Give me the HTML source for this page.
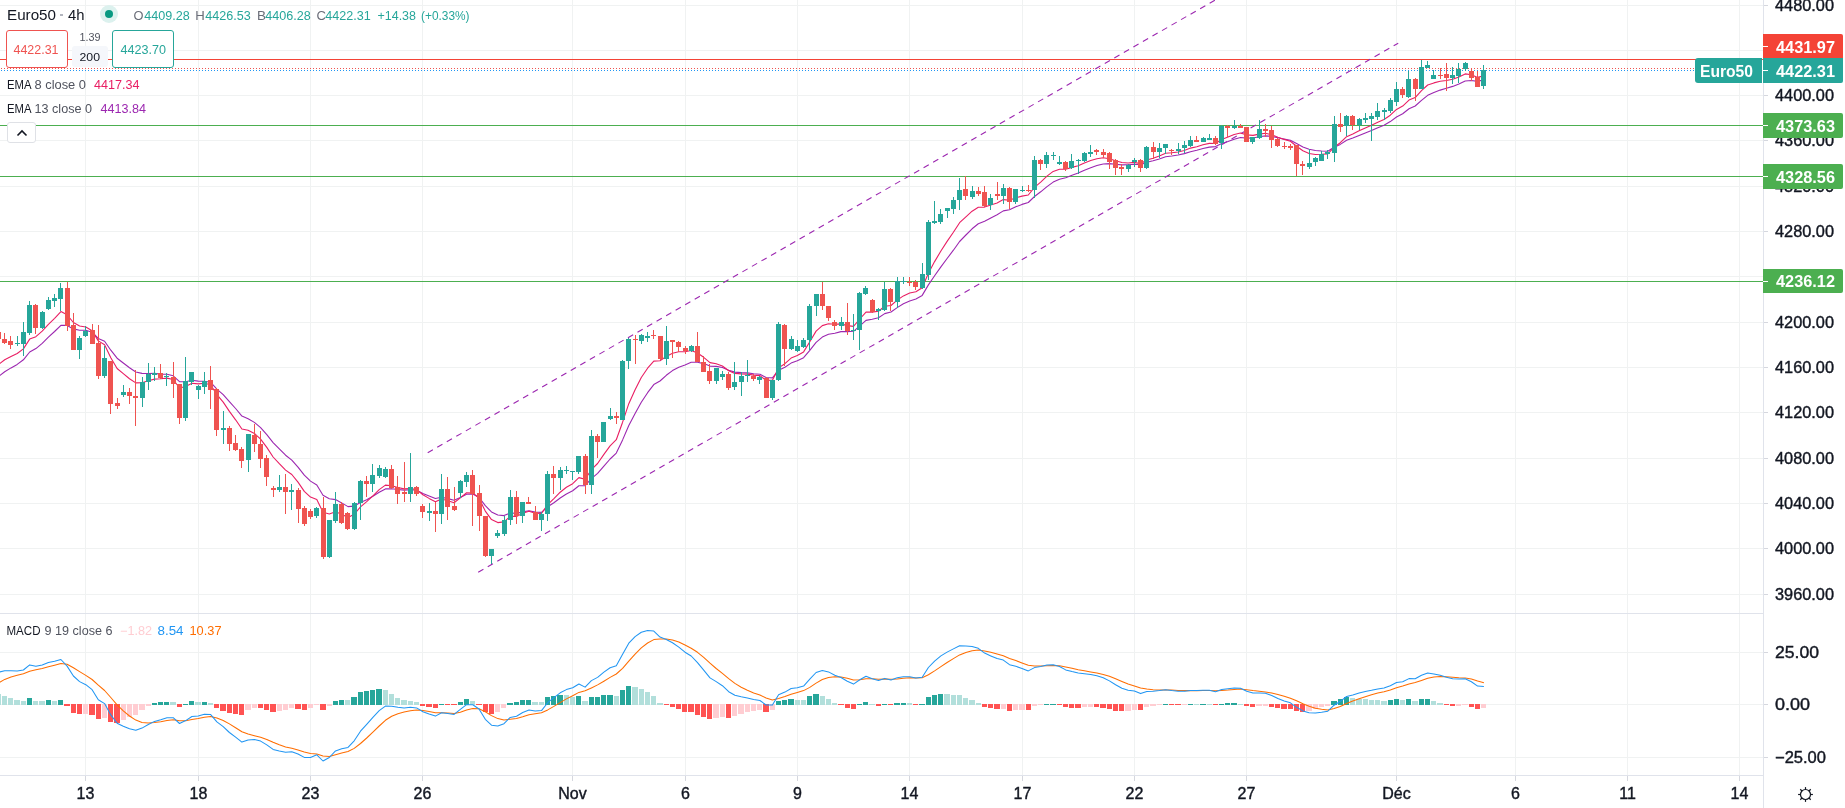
<!DOCTYPE html>
<html><head><meta charset="utf-8"><style>
html,body{margin:0;padding:0;background:#fff;width:1845px;height:808px;overflow:hidden;position:relative}
svg{will-change:transform}
.lg{position:absolute;white-space:nowrap;font-family:"Liberation Sans",sans-serif;line-height:1}
.k{color:#6a6d78} .g{color:#26a69a}
</style></head><body>
<svg width="1845" height="808" viewBox="0 0 1845 808" style="position:absolute;left:0;top:0">
<rect x="0" y="0" width="1845" height="808" fill="#ffffff"/>
<g shape-rendering="crispEdges"><rect x="85" y="0" width="1" height="775" fill="#f0f2f2"/><rect x="198" y="0" width="1" height="775" fill="#f0f2f2"/><rect x="310" y="0" width="1" height="775" fill="#f0f2f2"/><rect x="422" y="0" width="1" height="775" fill="#f0f2f2"/><rect x="572" y="0" width="1" height="775" fill="#f0f2f2"/><rect x="685" y="0" width="1" height="775" fill="#f0f2f2"/><rect x="797" y="0" width="1" height="775" fill="#f0f2f2"/><rect x="909" y="0" width="1" height="775" fill="#f0f2f2"/><rect x="1022" y="0" width="1" height="775" fill="#f0f2f2"/><rect x="1134" y="0" width="1" height="775" fill="#f0f2f2"/><rect x="1246" y="0" width="1" height="775" fill="#f0f2f2"/><rect x="1396" y="0" width="1" height="775" fill="#f0f2f2"/><rect x="1515" y="0" width="1" height="775" fill="#f0f2f2"/><rect x="1627" y="0" width="1" height="775" fill="#f0f2f2"/><rect x="1739" y="0" width="1" height="775" fill="#f0f2f2"/><rect x="0" y="594" width="1763" height="1" fill="#f0f2f2"/><rect x="0" y="548" width="1763" height="1" fill="#f0f2f2"/><rect x="0" y="503" width="1763" height="1" fill="#f0f2f2"/><rect x="0" y="458" width="1763" height="1" fill="#f0f2f2"/><rect x="0" y="412" width="1763" height="1" fill="#f0f2f2"/><rect x="0" y="367" width="1763" height="1" fill="#f0f2f2"/><rect x="0" y="322" width="1763" height="1" fill="#f0f2f2"/><rect x="0" y="276" width="1763" height="1" fill="#f0f2f2"/><rect x="0" y="231" width="1763" height="1" fill="#f0f2f2"/><rect x="0" y="186" width="1763" height="1" fill="#f0f2f2"/><rect x="0" y="140" width="1763" height="1" fill="#f0f2f2"/><rect x="0" y="95" width="1763" height="1" fill="#f0f2f2"/><rect x="0" y="50" width="1763" height="1" fill="#f0f2f2"/><rect x="0" y="5" width="1763" height="1" fill="#f0f2f2"/><rect x="0" y="652" width="1763" height="1" fill="#f0f2f2"/><rect x="0" y="704" width="1763" height="1" fill="#f0f2f2"/><rect x="0" y="757" width="1763" height="1" fill="#f0f2f2"/></g>
<g shape-rendering="crispEdges"><rect x="0" y="613" width="1845" height="1" fill="#e0e3eb"/><rect x="0" y="775" width="1845" height="1" fill="#e0e3eb"/><rect x="1763" y="0" width="1" height="808" fill="#e0e3eb"/></g>
<g shape-rendering="crispEdges">
<rect x="0" y="59" width="1763" height="1" fill="#f44336"/>
<rect x="0" y="125" width="1763" height="1" fill="#4caf50"/>
<rect x="0" y="176" width="1763" height="1" fill="#4caf50"/>
<rect x="0" y="281" width="1763" height="1" fill="#4caf50"/>
<line x1="0" y1="68.5" x2="1695" y2="68.5" stroke="#ef5350" stroke-width="1" stroke-dasharray="1 2" stroke-dashoffset="-1"/>
<line x1="0" y1="70.5" x2="1695" y2="70.5" stroke="#2196f3" stroke-width="1" stroke-dasharray="1 2" stroke-dashoffset="-1"/>
</g>
<line x1="427.7" y1="452.8" x2="1215.2" y2="-0.0" stroke="#9c27b0" stroke-width="1.1" stroke-dasharray="6 5"/>
<line x1="478.2" y1="572.2" x2="1398.2" y2="43.2" stroke="#9c27b0" stroke-width="1.1" stroke-dasharray="6 5"/>
<polyline points="-1.5,376.5 4.7,371.8 11.0,367.9 17.2,364.4 23.4,359.8 29.7,352.0 35.9,348.6 42.2,343.4 48.4,337.2 54.6,331.5 60.9,325.3 67.1,325.4 73.4,328.9 79.6,330.2 85.8,330.3 92.1,332.2 98.3,338.5 104.6,341.3 110.8,350.2 117.1,358.2 123.3,363.0 129.5,367.7 135.8,372.0 142.0,373.4 148.3,373.5 154.5,373.4 160.7,374.1 167.0,374.3 173.2,375.8 179.5,381.7 185.7,381.7 191.9,380.3 198.2,381.1 204.4,381.2 210.7,382.3 216.9,389.1 223.2,394.7 229.4,401.7 235.6,408.5 241.9,416.1 248.1,418.7 254.4,422.4 260.6,427.6 266.8,434.6 273.1,442.6 279.3,448.9 285.6,455.2 291.8,460.1 298.0,467.1 304.3,475.2 310.5,481.1 316.8,485.0 323.0,495.3 329.3,498.8 335.5,499.6 341.7,502.9 348.0,506.6 354.2,506.1 360.5,502.5 366.7,499.8 372.9,496.3 379.2,492.2 385.4,488.9 391.7,488.8 397.9,489.5 404.1,490.1 410.4,489.7 416.6,490.3 422.9,493.4 429.1,496.0 435.4,498.5 441.6,497.2 447.8,498.6 454.1,500.2 460.3,497.4 466.6,494.2 472.8,494.1 479.0,497.3 485.3,505.7 491.5,511.9 497.8,515.0 504.0,515.6 510.2,513.0 516.5,513.4 522.7,511.9 529.0,510.7 535.2,512.0 541.5,512.4 547.7,506.8 553.9,502.7 560.2,498.0 566.4,494.0 572.7,490.7 578.9,485.8 585.1,485.7 591.4,478.6 597.6,473.4 603.9,466.1 610.1,459.0 616.3,453.1 622.6,439.9 628.8,425.5 635.1,413.4 641.3,402.2 647.6,392.7 653.8,384.6 660.0,381.0 666.3,375.3 672.5,370.6 678.8,367.2 685.0,364.9 691.2,362.3 697.5,362.2 703.7,363.6 710.0,366.1 716.2,366.4 722.4,367.5 728.7,370.3 734.9,372.1 741.2,372.6 747.4,372.9 753.7,373.7 759.9,374.2 766.1,377.5 772.4,377.9 778.6,370.3 784.9,367.2 791.1,363.1 797.3,360.7 803.6,357.7 809.8,350.3 816.1,342.3 822.3,337.1 828.5,334.3 834.8,333.2 841.0,331.6 847.3,331.6 853.5,331.3 859.8,325.8 866.0,320.4 872.2,319.2 878.5,317.7 884.7,313.6 891.0,312.0 897.2,307.6 903.4,303.8 909.7,300.9 915.9,298.9 922.2,295.4 928.4,284.9 934.6,275.8 940.9,266.9 947.1,258.5 953.4,250.2 959.6,241.5 965.9,235.0 972.1,228.8 978.3,223.8 984.6,221.3 990.8,217.9 997.1,214.7 1003.3,210.9 1009.5,209.7 1015.8,206.8 1022.0,204.4 1028.3,202.5 1034.5,196.5 1040.7,191.8 1047.0,186.6 1053.2,182.1 1059.5,179.2 1065.7,177.7 1072.0,175.3 1078.2,173.1 1084.4,170.2 1090.7,167.7 1096.9,165.5 1103.2,164.0 1109.4,163.6 1115.6,164.2 1121.9,164.9 1128.1,164.8 1134.4,164.2 1140.6,164.8 1146.8,162.2 1153.1,160.8 1159.3,159.0 1165.6,156.8 1171.8,156.0 1178.1,155.0 1184.3,153.6 1190.5,151.7 1196.8,150.2 1203.0,148.5 1209.3,147.1 1215.5,146.6 1221.7,143.6 1228.0,141.5 1234.2,139.2 1240.5,137.5 1246.7,138.1 1253.0,138.0 1259.2,136.7 1265.4,135.9 1271.7,136.4 1277.9,137.8 1284.2,139.1 1290.4,140.3 1296.6,143.6 1302.9,146.9 1309.1,149.2 1315.4,150.5 1321.6,151.0 1327.8,151.2 1334.1,147.3 1340.3,144.4 1346.6,140.3 1352.8,138.1 1359.1,135.4 1365.3,132.9 1371.5,130.5 1377.8,127.7 1384.0,125.2 1390.3,121.6 1396.5,117.0 1402.7,113.8 1409.0,108.8 1415.2,106.0 1421.5,100.4 1427.7,95.3 1433.9,92.5 1440.2,90.1 1446.4,88.3 1452.7,86.4 1458.9,83.9 1465.2,81.0 1471.4,80.5 1477.6,81.4 1483.9,79.8" fill="none" stroke="#9c27b0" stroke-width="1.1" stroke-linejoin="round"/>
<polyline points="-1.5,364.5 4.7,359.7 11.0,356.5 17.2,353.5 23.4,348.9 29.7,339.1 35.9,336.7 42.2,331.2 48.4,324.3 54.6,318.3 60.9,311.6 67.1,314.8 73.4,322.5 79.6,326.0 85.8,327.0 92.1,330.8 98.3,340.9 104.6,344.7 110.8,357.8 117.1,368.5 123.3,373.7 129.5,378.7 135.8,382.9 142.0,382.7 148.3,380.7 154.5,379.1 160.7,378.8 167.0,378.1 173.2,379.5 179.5,388.0 185.7,386.5 191.9,383.3 198.2,383.9 204.4,383.3 210.7,384.7 216.9,394.7 223.2,402.1 229.4,411.4 235.6,419.8 241.9,429.0 248.1,430.3 254.4,433.4 260.6,439.1 266.8,447.4 273.1,457.0 279.3,463.7 285.6,470.1 291.8,474.5 298.0,482.1 304.3,491.4 310.5,497.1 316.8,499.5 323.0,512.3 329.3,514.0 335.5,511.8 341.7,514.3 348.0,517.5 354.2,514.3 360.5,506.8 366.7,501.7 372.9,495.8 379.2,489.6 385.4,485.1 391.7,485.7 397.9,487.5 404.1,488.9 410.4,488.5 416.6,489.6 422.9,494.7 429.1,498.4 435.4,501.8 441.6,499.0 447.8,500.7 454.1,502.8 460.3,497.9 466.6,492.8 472.8,493.0 479.0,498.2 485.3,511.1 491.5,519.6 497.8,522.6 504.0,521.9 510.2,516.4 516.5,516.4 522.7,513.3 529.0,511.2 535.2,513.1 541.5,513.4 547.7,504.6 553.9,498.6 560.2,492.2 566.4,487.3 572.7,483.7 578.9,477.6 585.1,479.3 591.4,469.7 597.6,463.5 603.9,454.4 610.1,445.9 616.3,439.7 622.6,422.2 628.8,403.7 635.1,389.7 641.3,377.5 647.6,368.2 653.8,361.1 660.0,360.7 666.3,356.4 672.5,353.3 678.8,351.8 685.0,351.7 691.2,350.5 697.5,353.0 703.7,357.3 710.0,362.6 716.2,363.8 722.4,366.0 728.7,370.8 734.9,373.4 741.2,373.9 747.4,374.1 753.7,375.1 759.9,375.6 766.1,380.4 772.4,380.3 778.6,367.9 784.9,363.7 791.1,358.1 797.3,355.5 803.6,351.9 809.8,341.7 816.1,331.1 822.3,325.6 828.5,323.8 834.8,324.3 841.0,323.9 847.3,325.6 853.5,326.4 859.8,319.0 866.0,312.1 872.2,312.1 878.5,311.3 884.7,306.3 891.0,305.5 897.2,300.1 903.4,295.9 909.7,293.0 915.9,291.7 922.2,287.8 928.4,273.2 934.6,261.6 940.9,251.0 947.1,241.4 953.4,232.2 959.6,222.7 965.9,216.9 972.1,211.2 978.3,207.3 984.6,207.1 990.8,204.9 997.1,202.9 1003.3,199.6 1009.5,200.2 1015.8,197.8 1022.0,196.1 1028.3,195.0 1034.5,187.3 1040.7,182.1 1047.0,176.1 1053.2,171.4 1059.5,169.3 1065.7,169.2 1072.0,167.4 1078.2,165.7 1084.4,162.9 1090.7,160.5 1096.9,158.7 1103.2,157.8 1109.4,158.7 1115.6,160.7 1121.9,162.5 1128.1,163.0 1134.4,162.4 1140.6,163.7 1146.8,160.0 1153.1,158.2 1159.3,155.9 1165.6,153.3 1171.8,152.8 1178.1,152.0 1184.3,150.5 1190.5,148.1 1196.8,146.7 1203.0,144.8 1209.3,143.4 1215.5,143.5 1221.7,139.5 1228.0,137.1 1234.2,134.5 1240.5,133.0 1246.7,134.9 1253.0,135.4 1259.2,134.1 1265.4,133.3 1271.7,134.7 1277.9,137.2 1284.2,139.4 1290.4,141.2 1296.6,146.2 1302.9,150.7 1309.1,153.5 1315.4,154.5 1321.6,154.3 1327.8,153.9 1334.1,147.3 1340.3,142.7 1346.6,136.7 1352.8,134.1 1359.1,130.8 1365.3,128.0 1371.5,125.3 1377.8,122.2 1384.0,119.5 1390.3,115.2 1396.5,109.4 1402.7,106.1 1409.0,100.1 1415.2,97.6 1421.5,90.7 1427.7,85.0 1433.9,82.9 1440.2,81.3 1446.4,80.5 1452.7,79.3 1458.9,77.0 1465.2,73.9 1471.4,74.7 1477.6,77.4 1483.9,75.8" fill="none" stroke="#e91e63" stroke-width="1.1" stroke-linejoin="round"/>
<g shape-rendering="crispEdges"><rect x="-2" y="331" width="1" height="9" fill="#ef5350"/><rect x="-4" y="332" width="5" height="7" fill="#ef5350"/><rect x="4" y="333" width="1" height="11" fill="#ef5350"/><rect x="2" y="339" width="5" height="4" fill="#ef5350"/><rect x="10" y="336" width="1" height="13" fill="#ef5350"/><rect x="8" y="341" width="5" height="4" fill="#ef5350"/><rect x="17" y="336" width="1" height="10" fill="#26a69a"/><rect x="15" y="343" width="5" height="1" fill="#26a69a"/><rect x="23" y="322" width="1" height="34" fill="#26a69a"/><rect x="21" y="332" width="5" height="12" fill="#26a69a"/><rect x="29" y="301" width="1" height="34" fill="#26a69a"/><rect x="27" y="305" width="5" height="28" fill="#26a69a"/><rect x="35" y="304" width="1" height="30" fill="#ef5350"/><rect x="33" y="305" width="5" height="23" fill="#ef5350"/><rect x="42" y="311" width="1" height="18" fill="#26a69a"/><rect x="40" y="312" width="5" height="16" fill="#26a69a"/><rect x="48" y="297" width="1" height="13" fill="#26a69a"/><rect x="46" y="300" width="5" height="9" fill="#26a69a"/><rect x="54" y="294" width="1" height="13" fill="#26a69a"/><rect x="52" y="298" width="5" height="3" fill="#26a69a"/><rect x="60" y="283" width="1" height="28" fill="#26a69a"/><rect x="58" y="288" width="5" height="11" fill="#26a69a"/><rect x="67" y="282" width="1" height="49" fill="#ef5350"/><rect x="65" y="288" width="5" height="38" fill="#ef5350"/><rect x="73" y="313" width="1" height="37" fill="#ef5350"/><rect x="71" y="325" width="5" height="25" fill="#ef5350"/><rect x="79" y="336" width="1" height="23" fill="#26a69a"/><rect x="77" y="338" width="5" height="12" fill="#26a69a"/><rect x="85" y="326" width="1" height="11" fill="#26a69a"/><rect x="83" y="331" width="5" height="5" fill="#26a69a"/><rect x="92" y="324" width="1" height="20" fill="#ef5350"/><rect x="90" y="330" width="5" height="14" fill="#ef5350"/><rect x="98" y="325" width="1" height="54" fill="#ef5350"/><rect x="96" y="343" width="5" height="33" fill="#ef5350"/><rect x="104" y="346" width="1" height="32" fill="#26a69a"/><rect x="102" y="358" width="5" height="18" fill="#26a69a"/><rect x="110" y="361" width="1" height="53" fill="#ef5350"/><rect x="108" y="361" width="5" height="43" fill="#ef5350"/><rect x="117" y="398" width="1" height="11" fill="#ef5350"/><rect x="115" y="403" width="5" height="3" fill="#ef5350"/><rect x="123" y="385" width="1" height="12" fill="#26a69a"/><rect x="121" y="392" width="5" height="3" fill="#26a69a"/><rect x="129" y="388" width="1" height="16" fill="#ef5350"/><rect x="127" y="392" width="5" height="4" fill="#ef5350"/><rect x="135" y="370" width="1" height="56" fill="#ef5350"/><rect x="133" y="396" width="5" height="2" fill="#ef5350"/><rect x="142" y="377" width="1" height="30" fill="#26a69a"/><rect x="140" y="382" width="5" height="16" fill="#26a69a"/><rect x="148" y="363" width="1" height="27" fill="#26a69a"/><rect x="146" y="374" width="5" height="8" fill="#26a69a"/><rect x="154" y="367" width="1" height="14" fill="#26a69a"/><rect x="152" y="373" width="5" height="2" fill="#26a69a"/><rect x="160" y="364" width="1" height="15" fill="#ef5350"/><rect x="158" y="373" width="5" height="5" fill="#ef5350"/><rect x="166" y="373" width="1" height="13" fill="#26a69a"/><rect x="164" y="376" width="5" height="1" fill="#26a69a"/><rect x="173" y="362" width="1" height="36" fill="#ef5350"/><rect x="171" y="377" width="5" height="7" fill="#ef5350"/><rect x="179" y="384" width="1" height="40" fill="#ef5350"/><rect x="177" y="384" width="5" height="34" fill="#ef5350"/><rect x="185" y="357" width="1" height="64" fill="#26a69a"/><rect x="183" y="381" width="5" height="37" fill="#26a69a"/><rect x="191" y="372" width="1" height="13" fill="#26a69a"/><rect x="189" y="372" width="5" height="10" fill="#26a69a"/><rect x="198" y="385" width="1" height="14" fill="#26a69a"/><rect x="196" y="386" width="5" height="4" fill="#26a69a"/><rect x="204" y="372" width="1" height="22" fill="#26a69a"/><rect x="202" y="381" width="5" height="6" fill="#26a69a"/><rect x="210" y="366" width="1" height="43" fill="#ef5350"/><rect x="208" y="380" width="5" height="10" fill="#ef5350"/><rect x="216" y="388" width="1" height="48" fill="#ef5350"/><rect x="214" y="389" width="5" height="41" fill="#ef5350"/><rect x="223" y="411" width="1" height="33" fill="#26a69a"/><rect x="221" y="428" width="5" height="2" fill="#26a69a"/><rect x="229" y="426" width="1" height="25" fill="#ef5350"/><rect x="227" y="428" width="5" height="16" fill="#ef5350"/><rect x="235" y="435" width="1" height="16" fill="#ef5350"/><rect x="233" y="443" width="5" height="7" fill="#ef5350"/><rect x="241" y="447" width="1" height="21" fill="#ef5350"/><rect x="239" y="449" width="5" height="12" fill="#ef5350"/><rect x="248" y="434" width="1" height="38" fill="#26a69a"/><rect x="246" y="434" width="5" height="26" fill="#26a69a"/><rect x="254" y="424" width="1" height="28" fill="#ef5350"/><rect x="252" y="435" width="5" height="9" fill="#ef5350"/><rect x="260" y="431" width="1" height="37" fill="#ef5350"/><rect x="258" y="444" width="5" height="15" fill="#ef5350"/><rect x="266" y="455" width="1" height="31" fill="#ef5350"/><rect x="264" y="458" width="5" height="19" fill="#ef5350"/><rect x="273" y="486" width="1" height="11" fill="#ef5350"/><rect x="271" y="488" width="5" height="2" fill="#ef5350"/><rect x="279" y="475" width="1" height="17" fill="#26a69a"/><rect x="277" y="487" width="5" height="3" fill="#26a69a"/><rect x="285" y="474" width="1" height="40" fill="#ef5350"/><rect x="283" y="487" width="5" height="5" fill="#ef5350"/><rect x="291" y="484" width="1" height="26" fill="#26a69a"/><rect x="289" y="490" width="5" height="2" fill="#26a69a"/><rect x="298" y="488" width="1" height="35" fill="#ef5350"/><rect x="296" y="490" width="5" height="19" fill="#ef5350"/><rect x="304" y="506" width="1" height="20" fill="#ef5350"/><rect x="302" y="508" width="5" height="16" fill="#ef5350"/><rect x="310" y="509" width="1" height="10" fill="#ef5350"/><rect x="308" y="511" width="5" height="6" fill="#ef5350"/><rect x="316" y="507" width="1" height="11" fill="#26a69a"/><rect x="314" y="508" width="5" height="8" fill="#26a69a"/><rect x="323" y="497" width="1" height="62" fill="#ef5350"/><rect x="321" y="508" width="5" height="49" fill="#ef5350"/><rect x="329" y="520" width="1" height="38" fill="#26a69a"/><rect x="327" y="520" width="5" height="37" fill="#26a69a"/><rect x="335" y="492" width="1" height="31" fill="#26a69a"/><rect x="333" y="504" width="5" height="17" fill="#26a69a"/><rect x="341" y="502" width="1" height="22" fill="#ef5350"/><rect x="339" y="504" width="5" height="19" fill="#ef5350"/><rect x="347" y="512" width="1" height="18" fill="#ef5350"/><rect x="345" y="513" width="5" height="16" fill="#ef5350"/><rect x="354" y="502" width="1" height="28" fill="#26a69a"/><rect x="352" y="503" width="5" height="26" fill="#26a69a"/><rect x="360" y="480" width="1" height="40" fill="#26a69a"/><rect x="358" y="481" width="5" height="22" fill="#26a69a"/><rect x="366" y="476" width="1" height="21" fill="#ef5350"/><rect x="364" y="481" width="5" height="3" fill="#ef5350"/><rect x="372" y="464" width="1" height="28" fill="#26a69a"/><rect x="370" y="475" width="5" height="9" fill="#26a69a"/><rect x="379" y="465" width="1" height="13" fill="#26a69a"/><rect x="377" y="468" width="5" height="8" fill="#26a69a"/><rect x="385" y="467" width="1" height="11" fill="#26a69a"/><rect x="383" y="469" width="5" height="8" fill="#26a69a"/><rect x="391" y="465" width="1" height="24" fill="#ef5350"/><rect x="389" y="469" width="5" height="19" fill="#ef5350"/><rect x="397" y="476" width="1" height="28" fill="#ef5350"/><rect x="395" y="487" width="5" height="7" fill="#ef5350"/><rect x="404" y="462" width="1" height="40" fill="#ef5350"/><rect x="402" y="492" width="5" height="2" fill="#ef5350"/><rect x="410" y="453" width="1" height="49" fill="#26a69a"/><rect x="408" y="487" width="5" height="7" fill="#26a69a"/><rect x="416" y="486" width="1" height="10" fill="#ef5350"/><rect x="414" y="487" width="5" height="7" fill="#ef5350"/><rect x="422" y="504" width="1" height="14" fill="#ef5350"/><rect x="420" y="506" width="5" height="6" fill="#ef5350"/><rect x="429" y="503" width="1" height="18" fill="#26a69a"/><rect x="427" y="511" width="5" height="2" fill="#26a69a"/><rect x="435" y="502" width="1" height="30" fill="#ef5350"/><rect x="433" y="511" width="5" height="3" fill="#ef5350"/><rect x="441" y="474" width="1" height="50" fill="#26a69a"/><rect x="439" y="489" width="5" height="25" fill="#26a69a"/><rect x="447" y="477" width="1" height="43" fill="#ef5350"/><rect x="445" y="489" width="5" height="18" fill="#ef5350"/><rect x="454" y="487" width="1" height="24" fill="#ef5350"/><rect x="452" y="506" width="5" height="4" fill="#ef5350"/><rect x="460" y="480" width="1" height="18" fill="#26a69a"/><rect x="458" y="481" width="5" height="12" fill="#26a69a"/><rect x="466" y="472" width="1" height="15" fill="#26a69a"/><rect x="464" y="475" width="5" height="7" fill="#26a69a"/><rect x="472" y="470" width="1" height="56" fill="#ef5350"/><rect x="470" y="475" width="5" height="19" fill="#ef5350"/><rect x="479" y="485" width="1" height="46" fill="#ef5350"/><rect x="477" y="493" width="5" height="23" fill="#ef5350"/><rect x="485" y="516" width="1" height="41" fill="#ef5350"/><rect x="483" y="516" width="5" height="40" fill="#ef5350"/><rect x="491" y="549" width="1" height="15" fill="#26a69a"/><rect x="489" y="549" width="5" height="7" fill="#26a69a"/><rect x="497" y="530" width="1" height="8" fill="#26a69a"/><rect x="495" y="533" width="5" height="3" fill="#26a69a"/><rect x="504" y="516" width="1" height="20" fill="#26a69a"/><rect x="502" y="520" width="5" height="14" fill="#26a69a"/><rect x="510" y="490" width="1" height="35" fill="#26a69a"/><rect x="508" y="497" width="5" height="23" fill="#26a69a"/><rect x="516" y="491" width="1" height="33" fill="#ef5350"/><rect x="514" y="497" width="5" height="19" fill="#ef5350"/><rect x="522" y="502" width="1" height="21" fill="#26a69a"/><rect x="520" y="502" width="5" height="14" fill="#26a69a"/><rect x="528" y="497" width="1" height="7" fill="#ef5350"/><rect x="526" y="502" width="5" height="2" fill="#ef5350"/><rect x="535" y="506" width="1" height="14" fill="#ef5350"/><rect x="533" y="512" width="5" height="8" fill="#ef5350"/><rect x="541" y="512" width="1" height="19" fill="#26a69a"/><rect x="539" y="514" width="5" height="6" fill="#26a69a"/><rect x="547" y="471" width="1" height="50" fill="#26a69a"/><rect x="545" y="474" width="5" height="40" fill="#26a69a"/><rect x="553" y="466" width="1" height="28" fill="#ef5350"/><rect x="551" y="474" width="5" height="4" fill="#ef5350"/><rect x="560" y="467" width="1" height="23" fill="#26a69a"/><rect x="558" y="470" width="5" height="8" fill="#26a69a"/><rect x="566" y="466" width="1" height="8" fill="#26a69a"/><rect x="564" y="470" width="5" height="1" fill="#26a69a"/><rect x="572" y="471" width="1" height="9" fill="#26a69a"/><rect x="570" y="471" width="5" height="1" fill="#26a69a"/><rect x="578" y="456" width="1" height="18" fill="#26a69a"/><rect x="576" y="456" width="5" height="16" fill="#26a69a"/><rect x="585" y="454" width="1" height="40" fill="#ef5350"/><rect x="583" y="456" width="5" height="29" fill="#ef5350"/><rect x="591" y="430" width="1" height="64" fill="#26a69a"/><rect x="589" y="436" width="5" height="49" fill="#26a69a"/><rect x="597" y="434" width="1" height="24" fill="#ef5350"/><rect x="595" y="436" width="5" height="6" fill="#ef5350"/><rect x="603" y="422" width="1" height="20" fill="#26a69a"/><rect x="601" y="422" width="5" height="20" fill="#26a69a"/><rect x="610" y="408" width="1" height="12" fill="#26a69a"/><rect x="608" y="416" width="5" height="3" fill="#26a69a"/><rect x="616" y="412" width="1" height="12" fill="#ef5350"/><rect x="614" y="416" width="5" height="2" fill="#ef5350"/><rect x="622" y="360" width="1" height="60" fill="#26a69a"/><rect x="620" y="361" width="5" height="59" fill="#26a69a"/><rect x="628" y="338" width="1" height="31" fill="#26a69a"/><rect x="626" y="339" width="5" height="22" fill="#26a69a"/><rect x="635" y="335" width="1" height="29" fill="#ef5350"/><rect x="633" y="339" width="5" height="1" fill="#ef5350"/><rect x="641" y="334" width="1" height="10" fill="#26a69a"/><rect x="639" y="335" width="5" height="6" fill="#26a69a"/><rect x="647" y="332" width="1" height="10" fill="#26a69a"/><rect x="645" y="336" width="5" height="2" fill="#26a69a"/><rect x="653" y="330" width="1" height="9" fill="#ef5350"/><rect x="651" y="335" width="5" height="1" fill="#ef5350"/><rect x="660" y="336" width="1" height="24" fill="#ef5350"/><rect x="658" y="336" width="5" height="23" fill="#ef5350"/><rect x="666" y="326" width="1" height="39" fill="#26a69a"/><rect x="664" y="341" width="5" height="18" fill="#26a69a"/><rect x="672" y="340" width="1" height="18" fill="#ef5350"/><rect x="670" y="340" width="5" height="2" fill="#ef5350"/><rect x="678" y="341" width="1" height="11" fill="#ef5350"/><rect x="676" y="342" width="5" height="5" fill="#ef5350"/><rect x="685" y="346" width="1" height="8" fill="#ef5350"/><rect x="683" y="348" width="5" height="3" fill="#ef5350"/><rect x="691" y="345" width="1" height="7" fill="#26a69a"/><rect x="689" y="346" width="5" height="5" fill="#26a69a"/><rect x="697" y="332" width="1" height="30" fill="#ef5350"/><rect x="695" y="346" width="5" height="16" fill="#ef5350"/><rect x="703" y="356" width="1" height="16" fill="#ef5350"/><rect x="701" y="362" width="5" height="10" fill="#ef5350"/><rect x="709" y="364" width="1" height="20" fill="#ef5350"/><rect x="707" y="371" width="5" height="10" fill="#ef5350"/><rect x="716" y="368" width="1" height="16" fill="#26a69a"/><rect x="714" y="368" width="5" height="13" fill="#26a69a"/><rect x="722" y="371" width="1" height="9" fill="#26a69a"/><rect x="720" y="374" width="5" height="3" fill="#26a69a"/><rect x="728" y="372" width="1" height="18" fill="#ef5350"/><rect x="726" y="374" width="5" height="14" fill="#ef5350"/><rect x="734" y="362" width="1" height="28" fill="#26a69a"/><rect x="732" y="382" width="5" height="5" fill="#26a69a"/><rect x="741" y="372" width="1" height="24" fill="#26a69a"/><rect x="739" y="376" width="5" height="6" fill="#26a69a"/><rect x="747" y="360" width="1" height="22" fill="#26a69a"/><rect x="745" y="375" width="5" height="1" fill="#26a69a"/><rect x="753" y="374" width="1" height="7" fill="#ef5350"/><rect x="751" y="376" width="5" height="3" fill="#ef5350"/><rect x="759" y="376" width="1" height="8" fill="#26a69a"/><rect x="757" y="377" width="5" height="3" fill="#26a69a"/><rect x="766" y="377" width="1" height="21" fill="#ef5350"/><rect x="764" y="378" width="5" height="20" fill="#ef5350"/><rect x="772" y="380" width="1" height="20" fill="#26a69a"/><rect x="770" y="380" width="5" height="18" fill="#26a69a"/><rect x="778" y="322" width="1" height="59" fill="#26a69a"/><rect x="776" y="324" width="5" height="56" fill="#26a69a"/><rect x="784" y="324" width="1" height="42" fill="#ef5350"/><rect x="782" y="325" width="5" height="24" fill="#ef5350"/><rect x="791" y="336" width="1" height="14" fill="#26a69a"/><rect x="789" y="339" width="5" height="10" fill="#26a69a"/><rect x="797" y="340" width="1" height="12" fill="#26a69a"/><rect x="795" y="346" width="5" height="5" fill="#26a69a"/><rect x="803" y="338" width="1" height="10" fill="#26a69a"/><rect x="801" y="340" width="5" height="7" fill="#26a69a"/><rect x="809" y="304" width="1" height="46" fill="#26a69a"/><rect x="807" y="306" width="5" height="34" fill="#26a69a"/><rect x="816" y="294" width="1" height="22" fill="#26a69a"/><rect x="814" y="294" width="5" height="12" fill="#26a69a"/><rect x="822" y="282" width="1" height="28" fill="#ef5350"/><rect x="820" y="294" width="5" height="12" fill="#ef5350"/><rect x="828" y="306" width="1" height="15" fill="#ef5350"/><rect x="826" y="306" width="5" height="12" fill="#ef5350"/><rect x="834" y="320" width="1" height="10" fill="#ef5350"/><rect x="832" y="322" width="5" height="4" fill="#ef5350"/><rect x="841" y="317" width="1" height="13" fill="#26a69a"/><rect x="839" y="322" width="5" height="4" fill="#26a69a"/><rect x="847" y="303" width="1" height="32" fill="#ef5350"/><rect x="845" y="322" width="5" height="9" fill="#ef5350"/><rect x="853" y="314" width="1" height="26" fill="#26a69a"/><rect x="851" y="330" width="5" height="1" fill="#26a69a"/><rect x="859" y="292" width="1" height="58" fill="#26a69a"/><rect x="857" y="293" width="5" height="37" fill="#26a69a"/><rect x="865" y="286" width="1" height="9" fill="#26a69a"/><rect x="863" y="288" width="5" height="6" fill="#26a69a"/><rect x="872" y="299" width="1" height="14" fill="#ef5350"/><rect x="870" y="300" width="5" height="12" fill="#ef5350"/><rect x="878" y="308" width="1" height="12" fill="#26a69a"/><rect x="876" y="309" width="5" height="2" fill="#26a69a"/><rect x="884" y="282" width="1" height="29" fill="#26a69a"/><rect x="882" y="289" width="5" height="21" fill="#26a69a"/><rect x="890" y="288" width="1" height="23" fill="#ef5350"/><rect x="888" y="289" width="5" height="13" fill="#ef5350"/><rect x="897" y="277" width="1" height="31" fill="#26a69a"/><rect x="895" y="281" width="5" height="21" fill="#26a69a"/><rect x="903" y="277" width="1" height="7" fill="#26a69a"/><rect x="901" y="281" width="5" height="1" fill="#26a69a"/><rect x="909" y="277" width="1" height="9" fill="#ef5350"/><rect x="907" y="282" width="5" height="1" fill="#ef5350"/><rect x="915" y="280" width="1" height="10" fill="#ef5350"/><rect x="913" y="282" width="5" height="5" fill="#ef5350"/><rect x="922" y="263" width="1" height="26" fill="#26a69a"/><rect x="920" y="274" width="5" height="14" fill="#26a69a"/><rect x="928" y="220" width="1" height="60" fill="#26a69a"/><rect x="926" y="222" width="5" height="53" fill="#26a69a"/><rect x="934" y="201" width="1" height="23" fill="#26a69a"/><rect x="932" y="221" width="5" height="2" fill="#26a69a"/><rect x="940" y="209" width="1" height="15" fill="#26a69a"/><rect x="938" y="214" width="5" height="8" fill="#26a69a"/><rect x="947" y="208" width="1" height="10" fill="#26a69a"/><rect x="945" y="208" width="5" height="3" fill="#26a69a"/><rect x="953" y="197" width="1" height="17" fill="#26a69a"/><rect x="951" y="200" width="5" height="9" fill="#26a69a"/><rect x="959" y="178" width="1" height="32" fill="#26a69a"/><rect x="957" y="190" width="5" height="10" fill="#26a69a"/><rect x="965" y="176" width="1" height="24" fill="#ef5350"/><rect x="963" y="189" width="5" height="7" fill="#ef5350"/><rect x="972" y="186" width="1" height="13" fill="#26a69a"/><rect x="970" y="191" width="5" height="6" fill="#26a69a"/><rect x="978" y="187" width="1" height="9" fill="#ef5350"/><rect x="976" y="191" width="5" height="3" fill="#ef5350"/><rect x="984" y="186" width="1" height="21" fill="#ef5350"/><rect x="982" y="192" width="5" height="14" fill="#ef5350"/><rect x="990" y="194" width="1" height="16" fill="#26a69a"/><rect x="988" y="198" width="5" height="7" fill="#26a69a"/><rect x="997" y="182" width="1" height="18" fill="#ef5350"/><rect x="995" y="194" width="5" height="2" fill="#ef5350"/><rect x="1003" y="184" width="1" height="20" fill="#26a69a"/><rect x="1001" y="188" width="5" height="8" fill="#26a69a"/><rect x="1009" y="187" width="1" height="22" fill="#ef5350"/><rect x="1007" y="188" width="5" height="14" fill="#ef5350"/><rect x="1015" y="189" width="1" height="15" fill="#26a69a"/><rect x="1013" y="189" width="5" height="13" fill="#26a69a"/><rect x="1022" y="186" width="1" height="6" fill="#26a69a"/><rect x="1020" y="190" width="5" height="1" fill="#26a69a"/><rect x="1028" y="185" width="1" height="7" fill="#ef5350"/><rect x="1026" y="190" width="5" height="1" fill="#ef5350"/><rect x="1034" y="156" width="1" height="42" fill="#26a69a"/><rect x="1032" y="160" width="5" height="30" fill="#26a69a"/><rect x="1040" y="159" width="1" height="11" fill="#ef5350"/><rect x="1038" y="160" width="5" height="4" fill="#ef5350"/><rect x="1046" y="152" width="1" height="16" fill="#26a69a"/><rect x="1044" y="155" width="5" height="9" fill="#26a69a"/><rect x="1053" y="152" width="1" height="8" fill="#26a69a"/><rect x="1051" y="155" width="5" height="1" fill="#26a69a"/><rect x="1059" y="156" width="1" height="9" fill="#26a69a"/><rect x="1057" y="162" width="5" height="2" fill="#26a69a"/><rect x="1065" y="161" width="1" height="10" fill="#ef5350"/><rect x="1063" y="162" width="5" height="7" fill="#ef5350"/><rect x="1071" y="154" width="1" height="15" fill="#26a69a"/><rect x="1069" y="161" width="5" height="7" fill="#26a69a"/><rect x="1078" y="159" width="1" height="15" fill="#26a69a"/><rect x="1076" y="160" width="5" height="1" fill="#26a69a"/><rect x="1084" y="152" width="1" height="10" fill="#26a69a"/><rect x="1082" y="153" width="5" height="8" fill="#26a69a"/><rect x="1090" y="145" width="1" height="12" fill="#26a69a"/><rect x="1088" y="152" width="5" height="2" fill="#26a69a"/><rect x="1096" y="149" width="1" height="6" fill="#ef5350"/><rect x="1094" y="150" width="5" height="2" fill="#ef5350"/><rect x="1103" y="149" width="1" height="9" fill="#ef5350"/><rect x="1101" y="152" width="5" height="3" fill="#ef5350"/><rect x="1109" y="152" width="1" height="17" fill="#ef5350"/><rect x="1107" y="153" width="5" height="9" fill="#ef5350"/><rect x="1115" y="159" width="1" height="16" fill="#ef5350"/><rect x="1113" y="160" width="5" height="8" fill="#ef5350"/><rect x="1121" y="164" width="1" height="11" fill="#ef5350"/><rect x="1119" y="167" width="5" height="2" fill="#ef5350"/><rect x="1128" y="164" width="1" height="8" fill="#26a69a"/><rect x="1126" y="165" width="5" height="4" fill="#26a69a"/><rect x="1134" y="158" width="1" height="9" fill="#26a69a"/><rect x="1132" y="160" width="5" height="2" fill="#26a69a"/><rect x="1140" y="159" width="1" height="13" fill="#ef5350"/><rect x="1138" y="160" width="5" height="8" fill="#ef5350"/><rect x="1146" y="146" width="1" height="23" fill="#26a69a"/><rect x="1144" y="147" width="5" height="21" fill="#26a69a"/><rect x="1153" y="142" width="1" height="17" fill="#ef5350"/><rect x="1151" y="147" width="5" height="5" fill="#ef5350"/><rect x="1159" y="143" width="1" height="15" fill="#26a69a"/><rect x="1157" y="148" width="5" height="4" fill="#26a69a"/><rect x="1165" y="144" width="1" height="10" fill="#26a69a"/><rect x="1163" y="144" width="5" height="4" fill="#26a69a"/><rect x="1171" y="149" width="1" height="6" fill="#ef5350"/><rect x="1169" y="150" width="5" height="1" fill="#ef5350"/><rect x="1178" y="143" width="1" height="11" fill="#26a69a"/><rect x="1176" y="149" width="5" height="2" fill="#26a69a"/><rect x="1184" y="141" width="1" height="12" fill="#26a69a"/><rect x="1182" y="145" width="5" height="3" fill="#26a69a"/><rect x="1190" y="136" width="1" height="11" fill="#26a69a"/><rect x="1188" y="140" width="5" height="6" fill="#26a69a"/><rect x="1196" y="136" width="1" height="6" fill="#ef5350"/><rect x="1194" y="140" width="5" height="2" fill="#ef5350"/><rect x="1203" y="137" width="1" height="5" fill="#26a69a"/><rect x="1201" y="138" width="5" height="4" fill="#26a69a"/><rect x="1209" y="134" width="1" height="6" fill="#26a69a"/><rect x="1207" y="138" width="5" height="2" fill="#26a69a"/><rect x="1215" y="136" width="1" height="9" fill="#ef5350"/><rect x="1213" y="138" width="5" height="6" fill="#ef5350"/><rect x="1221" y="125" width="1" height="24" fill="#26a69a"/><rect x="1219" y="126" width="5" height="17" fill="#26a69a"/><rect x="1227" y="125" width="1" height="12" fill="#ef5350"/><rect x="1225" y="126" width="5" height="2" fill="#ef5350"/><rect x="1234" y="120" width="1" height="9" fill="#26a69a"/><rect x="1232" y="126" width="5" height="2" fill="#26a69a"/><rect x="1240" y="124" width="1" height="4" fill="#ef5350"/><rect x="1238" y="126" width="5" height="2" fill="#ef5350"/><rect x="1246" y="127" width="1" height="15" fill="#ef5350"/><rect x="1244" y="127" width="5" height="15" fill="#ef5350"/><rect x="1252" y="137" width="1" height="7" fill="#26a69a"/><rect x="1250" y="137" width="5" height="5" fill="#26a69a"/><rect x="1259" y="120" width="1" height="19" fill="#26a69a"/><rect x="1257" y="129" width="5" height="9" fill="#26a69a"/><rect x="1265" y="124" width="1" height="13" fill="#ef5350"/><rect x="1263" y="129" width="5" height="2" fill="#ef5350"/><rect x="1271" y="126" width="1" height="22" fill="#ef5350"/><rect x="1269" y="130" width="5" height="10" fill="#ef5350"/><rect x="1277" y="138" width="1" height="9" fill="#ef5350"/><rect x="1275" y="139" width="5" height="7" fill="#ef5350"/><rect x="1284" y="142" width="1" height="7" fill="#ef5350"/><rect x="1282" y="146" width="5" height="1" fill="#ef5350"/><rect x="1290" y="144" width="1" height="6" fill="#ef5350"/><rect x="1288" y="146" width="5" height="2" fill="#ef5350"/><rect x="1296" y="145" width="1" height="31" fill="#ef5350"/><rect x="1294" y="145" width="5" height="19" fill="#ef5350"/><rect x="1302" y="161" width="1" height="14" fill="#ef5350"/><rect x="1300" y="164" width="5" height="2" fill="#ef5350"/><rect x="1309" y="149" width="1" height="20" fill="#26a69a"/><rect x="1307" y="163" width="5" height="4" fill="#26a69a"/><rect x="1315" y="157" width="1" height="9" fill="#26a69a"/><rect x="1313" y="158" width="5" height="4" fill="#26a69a"/><rect x="1321" y="151" width="1" height="10" fill="#26a69a"/><rect x="1319" y="154" width="5" height="7" fill="#26a69a"/><rect x="1327" y="150" width="1" height="9" fill="#26a69a"/><rect x="1325" y="152" width="5" height="2" fill="#26a69a"/><rect x="1334" y="116" width="1" height="46" fill="#26a69a"/><rect x="1332" y="124" width="5" height="29" fill="#26a69a"/><rect x="1340" y="113" width="1" height="19" fill="#ef5350"/><rect x="1338" y="124" width="5" height="3" fill="#ef5350"/><rect x="1346" y="115" width="1" height="21" fill="#26a69a"/><rect x="1344" y="116" width="5" height="10" fill="#26a69a"/><rect x="1352" y="115" width="1" height="15" fill="#ef5350"/><rect x="1350" y="116" width="5" height="9" fill="#ef5350"/><rect x="1359" y="118" width="1" height="12" fill="#26a69a"/><rect x="1357" y="119" width="5" height="6" fill="#26a69a"/><rect x="1365" y="113" width="1" height="10" fill="#26a69a"/><rect x="1363" y="118" width="5" height="2" fill="#26a69a"/><rect x="1371" y="113" width="1" height="28" fill="#26a69a"/><rect x="1369" y="116" width="5" height="3" fill="#26a69a"/><rect x="1377" y="103" width="1" height="17" fill="#26a69a"/><rect x="1375" y="111" width="5" height="6" fill="#26a69a"/><rect x="1384" y="108" width="1" height="12" fill="#26a69a"/><rect x="1382" y="110" width="5" height="2" fill="#26a69a"/><rect x="1390" y="98" width="1" height="15" fill="#26a69a"/><rect x="1388" y="100" width="5" height="11" fill="#26a69a"/><rect x="1396" y="82" width="1" height="24" fill="#26a69a"/><rect x="1394" y="89" width="5" height="13" fill="#26a69a"/><rect x="1402" y="87" width="1" height="11" fill="#ef5350"/><rect x="1400" y="89" width="5" height="6" fill="#ef5350"/><rect x="1408" y="71" width="1" height="27" fill="#26a69a"/><rect x="1406" y="79" width="5" height="18" fill="#26a69a"/><rect x="1415" y="78" width="1" height="23" fill="#ef5350"/><rect x="1413" y="79" width="5" height="10" fill="#ef5350"/><rect x="1421" y="60" width="1" height="29" fill="#26a69a"/><rect x="1419" y="67" width="5" height="22" fill="#26a69a"/><rect x="1427" y="61" width="1" height="7" fill="#26a69a"/><rect x="1425" y="65" width="5" height="3" fill="#26a69a"/><rect x="1433" y="70" width="1" height="9" fill="#26a69a"/><rect x="1431" y="75" width="5" height="4" fill="#26a69a"/><rect x="1440" y="68" width="1" height="11" fill="#ef5350"/><rect x="1438" y="75" width="5" height="1" fill="#ef5350"/><rect x="1446" y="63" width="1" height="28" fill="#ef5350"/><rect x="1444" y="74" width="5" height="4" fill="#ef5350"/><rect x="1452" y="67" width="1" height="17" fill="#26a69a"/><rect x="1450" y="75" width="5" height="3" fill="#26a69a"/><rect x="1458" y="63" width="1" height="20" fill="#26a69a"/><rect x="1456" y="69" width="5" height="7" fill="#26a69a"/><rect x="1465" y="62" width="1" height="9" fill="#26a69a"/><rect x="1463" y="63" width="5" height="6" fill="#26a69a"/><rect x="1471" y="68" width="1" height="13" fill="#ef5350"/><rect x="1469" y="71" width="5" height="7" fill="#ef5350"/><rect x="1477" y="71" width="1" height="16" fill="#ef5350"/><rect x="1475" y="77" width="5" height="10" fill="#ef5350"/><rect x="1483" y="65" width="1" height="24" fill="#26a69a"/><rect x="1481" y="70" width="5" height="16" fill="#26a69a"/></g>
<g shape-rendering="crispEdges"><rect x="-4" y="694" width="5" height="11" fill="#b2dfdb"/><rect x="2" y="696" width="5" height="9" fill="#b2dfdb"/><rect x="8" y="698" width="5" height="7" fill="#b2dfdb"/><rect x="14" y="700" width="6" height="5" fill="#b2dfdb"/><rect x="21" y="701" width="5" height="4" fill="#b2dfdb"/><rect x="27" y="698" width="5" height="7" fill="#26a69a"/><rect x="33" y="701" width="5" height="4" fill="#b2dfdb"/><rect x="39" y="701" width="6" height="4" fill="#b2dfdb"/><rect x="46" y="700" width="5" height="5" fill="#26a69a"/><rect x="52" y="701" width="5" height="4" fill="#b2dfdb"/><rect x="58" y="700" width="5" height="5" fill="#26a69a"/><rect x="64" y="704" width="6" height="2" fill="#ff5252"/><rect x="71" y="704" width="5" height="9" fill="#ff5252"/><rect x="77" y="704" width="5" height="10" fill="#ff5252"/><rect x="83" y="704" width="5" height="10" fill="#ffcdd2"/><rect x="89" y="704" width="6" height="11" fill="#ff5252"/><rect x="96" y="704" width="5" height="15" fill="#ff5252"/><rect x="102" y="704" width="5" height="14" fill="#ffcdd2"/><rect x="108" y="704" width="5" height="18" fill="#ff5252"/><rect x="114" y="704" width="6" height="19" fill="#ff5252"/><rect x="121" y="704" width="5" height="16" fill="#ffcdd2"/><rect x="127" y="704" width="5" height="13" fill="#ffcdd2"/><rect x="133" y="704" width="5" height="11" fill="#ffcdd2"/><rect x="139" y="704" width="6" height="6" fill="#ffcdd2"/><rect x="146" y="704" width="5" height="2" fill="#ffcdd2"/><rect x="152" y="703" width="5" height="2" fill="#26a69a"/><rect x="158" y="702" width="5" height="3" fill="#26a69a"/><rect x="164" y="702" width="5" height="3" fill="#26a69a"/><rect x="170" y="702" width="6" height="3" fill="#b2dfdb"/><rect x="177" y="704" width="5" height="3" fill="#ff5252"/><rect x="183" y="704" width="5" height="1" fill="#26a69a"/><rect x="189" y="701" width="5" height="4" fill="#26a69a"/><rect x="195" y="702" width="6" height="3" fill="#b2dfdb"/><rect x="202" y="702" width="5" height="3" fill="#26a69a"/><rect x="208" y="703" width="5" height="2" fill="#b2dfdb"/><rect x="214" y="704" width="5" height="4" fill="#ff5252"/><rect x="220" y="704" width="6" height="7" fill="#ff5252"/><rect x="227" y="704" width="5" height="9" fill="#ff5252"/><rect x="233" y="704" width="5" height="10" fill="#ff5252"/><rect x="239" y="704" width="5" height="11" fill="#ff5252"/><rect x="245" y="704" width="6" height="6" fill="#ffcdd2"/><rect x="252" y="704" width="5" height="4" fill="#ffcdd2"/><rect x="258" y="704" width="5" height="4" fill="#ff5252"/><rect x="264" y="704" width="5" height="6" fill="#ff5252"/><rect x="270" y="704" width="6" height="8" fill="#ff5252"/><rect x="277" y="704" width="5" height="7" fill="#ffcdd2"/><rect x="283" y="704" width="5" height="6" fill="#ffcdd2"/><rect x="289" y="704" width="5" height="4" fill="#ffcdd2"/><rect x="295" y="704" width="6" height="5" fill="#ff5252"/><rect x="302" y="704" width="5" height="6" fill="#ff5252"/><rect x="308" y="704" width="5" height="4" fill="#ffcdd2"/><rect x="314" y="704" width="5" height="1" fill="#ffcdd2"/><rect x="320" y="704" width="6" height="6" fill="#ff5252"/><rect x="327" y="704" width="5" height="2" fill="#ffcdd2"/><rect x="333" y="701" width="5" height="4" fill="#26a69a"/><rect x="339" y="700" width="5" height="5" fill="#26a69a"/><rect x="345" y="700" width="5" height="5" fill="#b2dfdb"/><rect x="351" y="697" width="6" height="8" fill="#26a69a"/><rect x="358" y="692" width="5" height="13" fill="#26a69a"/><rect x="364" y="691" width="5" height="14" fill="#26a69a"/><rect x="370" y="690" width="5" height="15" fill="#26a69a"/><rect x="376" y="689" width="6" height="16" fill="#26a69a"/><rect x="383" y="690" width="5" height="15" fill="#b2dfdb"/><rect x="389" y="694" width="5" height="11" fill="#b2dfdb"/><rect x="395" y="698" width="5" height="7" fill="#b2dfdb"/><rect x="401" y="700" width="6" height="5" fill="#b2dfdb"/><rect x="408" y="701" width="5" height="4" fill="#b2dfdb"/><rect x="414" y="702" width="5" height="3" fill="#b2dfdb"/><rect x="420" y="704" width="5" height="2" fill="#ff5252"/><rect x="426" y="704" width="6" height="3" fill="#ff5252"/><rect x="433" y="704" width="5" height="4" fill="#ff5252"/><rect x="439" y="704" width="5" height="1" fill="#26a69a"/><rect x="445" y="704" width="5" height="1" fill="#ff5252"/><rect x="451" y="704" width="6" height="1" fill="#ff5252"/><rect x="458" y="702" width="5" height="3" fill="#26a69a"/><rect x="464" y="699" width="5" height="6" fill="#26a69a"/><rect x="470" y="701" width="5" height="4" fill="#b2dfdb"/><rect x="476" y="704" width="6" height="1" fill="#ff5252"/><rect x="483" y="704" width="5" height="8" fill="#ff5252"/><rect x="489" y="704" width="5" height="10" fill="#ff5252"/><rect x="495" y="704" width="5" height="8" fill="#ffcdd2"/><rect x="501" y="704" width="5" height="4" fill="#ffcdd2"/><rect x="507" y="703" width="6" height="2" fill="#26a69a"/><rect x="514" y="702" width="5" height="3" fill="#26a69a"/><rect x="520" y="700" width="5" height="5" fill="#26a69a"/><rect x="526" y="700" width="5" height="5" fill="#26a69a"/><rect x="532" y="702" width="6" height="3" fill="#b2dfdb"/><rect x="539" y="702" width="5" height="3" fill="#b2dfdb"/><rect x="545" y="697" width="5" height="8" fill="#26a69a"/><rect x="551" y="696" width="5" height="9" fill="#26a69a"/><rect x="557" y="695" width="6" height="10" fill="#26a69a"/><rect x="564" y="695" width="5" height="10" fill="#b2dfdb"/><rect x="570" y="697" width="5" height="8" fill="#b2dfdb"/><rect x="576" y="696" width="5" height="9" fill="#26a69a"/><rect x="582" y="701" width="6" height="4" fill="#b2dfdb"/><rect x="589" y="697" width="5" height="8" fill="#26a69a"/><rect x="595" y="697" width="5" height="8" fill="#26a69a"/><rect x="601" y="695" width="5" height="10" fill="#26a69a"/><rect x="607" y="695" width="6" height="10" fill="#26a69a"/><rect x="614" y="696" width="5" height="9" fill="#b2dfdb"/><rect x="620" y="690" width="5" height="15" fill="#26a69a"/><rect x="626" y="686" width="5" height="19" fill="#26a69a"/><rect x="632" y="687" width="6" height="18" fill="#b2dfdb"/><rect x="639" y="689" width="5" height="16" fill="#b2dfdb"/><rect x="645" y="692" width="5" height="13" fill="#b2dfdb"/><rect x="651" y="696" width="5" height="9" fill="#b2dfdb"/><rect x="657" y="703" width="6" height="2" fill="#b2dfdb"/><rect x="664" y="704" width="5" height="1" fill="#ff5252"/><rect x="670" y="704" width="5" height="3" fill="#ff5252"/><rect x="676" y="704" width="5" height="5" fill="#ff5252"/><rect x="682" y="704" width="5" height="8" fill="#ff5252"/><rect x="688" y="704" width="6" height="8" fill="#ff5252"/><rect x="695" y="704" width="5" height="11" fill="#ff5252"/><rect x="701" y="704" width="5" height="13" fill="#ff5252"/><rect x="707" y="704" width="5" height="15" fill="#ff5252"/><rect x="713" y="704" width="6" height="14" fill="#ffcdd2"/><rect x="720" y="704" width="5" height="13" fill="#ffcdd2"/><rect x="726" y="704" width="5" height="14" fill="#ff5252"/><rect x="732" y="704" width="5" height="12" fill="#ffcdd2"/><rect x="738" y="704" width="6" height="10" fill="#ffcdd2"/><rect x="745" y="704" width="5" height="8" fill="#ffcdd2"/><rect x="751" y="704" width="5" height="7" fill="#ffcdd2"/><rect x="757" y="704" width="5" height="6" fill="#ffcdd2"/><rect x="763" y="704" width="6" height="8" fill="#ff5252"/><rect x="770" y="704" width="5" height="6" fill="#ffcdd2"/><rect x="776" y="701" width="5" height="4" fill="#26a69a"/><rect x="782" y="700" width="5" height="5" fill="#26a69a"/><rect x="788" y="699" width="6" height="6" fill="#26a69a"/><rect x="795" y="700" width="5" height="5" fill="#b2dfdb"/><rect x="801" y="700" width="5" height="5" fill="#b2dfdb"/><rect x="807" y="696" width="5" height="9" fill="#26a69a"/><rect x="813" y="694" width="6" height="11" fill="#26a69a"/><rect x="820" y="696" width="5" height="9" fill="#b2dfdb"/><rect x="826" y="699" width="5" height="6" fill="#b2dfdb"/><rect x="832" y="703" width="5" height="2" fill="#b2dfdb"/><rect x="838" y="704" width="6" height="1" fill="#ff5252"/><rect x="845" y="704" width="5" height="4" fill="#ff5252"/><rect x="851" y="704" width="5" height="5" fill="#ff5252"/><rect x="857" y="704" width="5" height="1" fill="#26a69a"/><rect x="863" y="702" width="5" height="3" fill="#26a69a"/><rect x="869" y="704" width="6" height="1" fill="#b2dfdb"/><rect x="876" y="704" width="5" height="2" fill="#ff5252"/><rect x="882" y="704" width="5" height="1" fill="#26a69a"/><rect x="888" y="704" width="5" height="1" fill="#ff5252"/><rect x="894" y="703" width="6" height="2" fill="#26a69a"/><rect x="901" y="703" width="5" height="2" fill="#26a69a"/><rect x="907" y="703" width="5" height="2" fill="#b2dfdb"/><rect x="913" y="704" width="5" height="1" fill="#ff5252"/><rect x="919" y="704" width="6" height="1" fill="#26a69a"/><rect x="926" y="697" width="5" height="8" fill="#26a69a"/><rect x="932" y="695" width="5" height="10" fill="#26a69a"/><rect x="938" y="694" width="5" height="11" fill="#26a69a"/><rect x="944" y="694" width="6" height="11" fill="#b2dfdb"/><rect x="951" y="695" width="5" height="10" fill="#b2dfdb"/><rect x="957" y="695" width="5" height="10" fill="#b2dfdb"/><rect x="963" y="698" width="5" height="7" fill="#b2dfdb"/><rect x="969" y="700" width="6" height="5" fill="#b2dfdb"/><rect x="976" y="703" width="5" height="2" fill="#b2dfdb"/><rect x="982" y="704" width="5" height="3" fill="#ff5252"/><rect x="988" y="704" width="5" height="4" fill="#ff5252"/><rect x="994" y="704" width="6" height="5" fill="#ff5252"/><rect x="1001" y="704" width="5" height="5" fill="#ffcdd2"/><rect x="1007" y="704" width="5" height="7" fill="#ff5252"/><rect x="1013" y="704" width="5" height="6" fill="#ffcdd2"/><rect x="1019" y="704" width="6" height="6" fill="#ffcdd2"/><rect x="1026" y="704" width="5" height="6" fill="#ff5252"/><rect x="1032" y="704" width="5" height="2" fill="#ffcdd2"/><rect x="1038" y="704" width="5" height="1" fill="#ffcdd2"/><rect x="1044" y="704" width="5" height="1" fill="#26a69a"/><rect x="1050" y="704" width="6" height="1" fill="#26a69a"/><rect x="1057" y="704" width="5" height="1" fill="#ff5252"/><rect x="1063" y="704" width="5" height="3" fill="#ff5252"/><rect x="1069" y="704" width="5" height="4" fill="#ff5252"/><rect x="1075" y="704" width="6" height="4" fill="#ff5252"/><rect x="1082" y="704" width="5" height="3" fill="#ffcdd2"/><rect x="1088" y="704" width="5" height="3" fill="#ffcdd2"/><rect x="1094" y="704" width="5" height="3" fill="#ff5252"/><rect x="1100" y="704" width="6" height="4" fill="#ff5252"/><rect x="1107" y="704" width="5" height="5" fill="#ff5252"/><rect x="1113" y="704" width="5" height="7" fill="#ff5252"/><rect x="1119" y="704" width="5" height="7" fill="#ff5252"/><rect x="1125" y="704" width="6" height="7" fill="#ffcdd2"/><rect x="1132" y="704" width="5" height="6" fill="#ffcdd2"/><rect x="1138" y="704" width="5" height="6" fill="#ff5252"/><rect x="1144" y="704" width="5" height="3" fill="#ffcdd2"/><rect x="1150" y="704" width="6" height="2" fill="#ffcdd2"/><rect x="1157" y="704" width="5" height="1" fill="#ffcdd2"/><rect x="1163" y="704" width="5" height="1" fill="#26a69a"/><rect x="1169" y="704" width="5" height="1" fill="#ff5252"/><rect x="1175" y="704" width="6" height="1" fill="#ff5252"/><rect x="1182" y="704" width="5" height="1" fill="#ffcdd2"/><rect x="1188" y="704" width="5" height="1" fill="#26a69a"/><rect x="1194" y="704" width="5" height="1" fill="#b2dfdb"/><rect x="1200" y="704" width="6" height="1" fill="#26a69a"/><rect x="1207" y="704" width="5" height="1" fill="#b2dfdb"/><rect x="1213" y="704" width="5" height="1" fill="#ff5252"/><rect x="1219" y="704" width="5" height="1" fill="#26a69a"/><rect x="1225" y="703" width="5" height="2" fill="#26a69a"/><rect x="1231" y="703" width="6" height="2" fill="#26a69a"/><rect x="1238" y="704" width="5" height="1" fill="#b2dfdb"/><rect x="1244" y="704" width="5" height="2" fill="#ff5252"/><rect x="1250" y="704" width="5" height="3" fill="#ff5252"/><rect x="1256" y="704" width="6" height="2" fill="#ffcdd2"/><rect x="1263" y="704" width="5" height="2" fill="#ffcdd2"/><rect x="1269" y="704" width="5" height="3" fill="#ff5252"/><rect x="1275" y="704" width="5" height="4" fill="#ff5252"/><rect x="1281" y="704" width="6" height="5" fill="#ff5252"/><rect x="1288" y="704" width="5" height="5" fill="#ff5252"/><rect x="1294" y="704" width="5" height="7" fill="#ff5252"/><rect x="1300" y="704" width="5" height="8" fill="#ff5252"/><rect x="1306" y="704" width="6" height="7" fill="#ffcdd2"/><rect x="1313" y="704" width="5" height="5" fill="#ffcdd2"/><rect x="1319" y="704" width="5" height="3" fill="#ffcdd2"/><rect x="1325" y="704" width="5" height="2" fill="#ffcdd2"/><rect x="1331" y="701" width="6" height="4" fill="#26a69a"/><rect x="1338" y="699" width="5" height="6" fill="#26a69a"/><rect x="1344" y="697" width="5" height="8" fill="#26a69a"/><rect x="1350" y="698" width="5" height="7" fill="#b2dfdb"/><rect x="1356" y="699" width="6" height="6" fill="#b2dfdb"/><rect x="1363" y="699" width="5" height="6" fill="#b2dfdb"/><rect x="1369" y="700" width="5" height="5" fill="#b2dfdb"/><rect x="1375" y="700" width="5" height="5" fill="#b2dfdb"/><rect x="1381" y="701" width="6" height="4" fill="#b2dfdb"/><rect x="1388" y="700" width="5" height="5" fill="#26a69a"/><rect x="1394" y="699" width="5" height="6" fill="#26a69a"/><rect x="1400" y="700" width="5" height="5" fill="#b2dfdb"/><rect x="1406" y="699" width="5" height="6" fill="#26a69a"/><rect x="1412" y="701" width="6" height="4" fill="#b2dfdb"/><rect x="1419" y="699" width="5" height="6" fill="#26a69a"/><rect x="1425" y="699" width="5" height="6" fill="#26a69a"/><rect x="1431" y="701" width="5" height="4" fill="#b2dfdb"/><rect x="1437" y="703" width="6" height="2" fill="#b2dfdb"/><rect x="1444" y="704" width="5" height="1" fill="#ff5252"/><rect x="1450" y="704" width="5" height="2" fill="#ff5252"/><rect x="1456" y="704" width="5" height="2" fill="#ffcdd2"/><rect x="1462" y="704" width="6" height="1" fill="#ffcdd2"/><rect x="1469" y="704" width="5" height="3" fill="#ff5252"/><rect x="1475" y="704" width="5" height="5" fill="#ff5252"/><rect x="1481" y="704" width="5" height="4" fill="#ffcdd2"/></g>
<polyline points="-1.5,682.9 4.7,679.4 11.0,676.9 17.2,675.3 23.4,673.8 29.7,671.2 35.9,669.8 42.2,668.4 48.4,666.8 54.6,665.2 60.9,663.6 67.1,664.3 73.4,667.7 79.6,671.6 85.8,675.4 92.1,679.5 98.3,685.2 104.6,690.5 110.8,697.5 117.1,704.8 123.3,710.9 129.5,716.0 135.8,720.1 142.0,722.4 148.3,723.0 154.5,722.5 160.7,721.7 167.0,720.6 173.2,719.7 179.5,720.8 185.7,720.8 191.9,719.5 198.2,718.5 204.4,717.3 210.7,716.5 216.9,718.1 223.2,720.5 229.4,723.9 235.6,727.7 241.9,731.8 248.1,734.1 254.4,735.7 260.6,737.2 266.8,739.4 273.1,742.3 279.3,744.8 285.6,746.9 291.8,748.3 298.0,750.0 304.3,752.1 310.5,753.6 316.8,754.0 323.0,756.0 329.3,756.4 335.5,754.8 341.7,753.1 348.0,751.5 354.2,748.4 360.5,743.5 366.7,738.0 372.9,732.1 379.2,726.0 385.4,720.3 391.7,716.2 397.9,713.7 404.1,712.1 410.4,710.7 416.6,709.9 422.9,710.4 429.1,711.5 435.4,712.8 441.6,712.8 447.8,713.0 454.1,713.4 460.3,712.3 466.6,710.1 472.8,708.6 479.0,708.7 485.3,711.7 491.5,715.6 497.8,718.6 504.0,720.0 510.2,719.3 516.5,718.4 522.7,716.7 529.0,714.8 535.2,713.7 541.5,712.8 547.7,709.9 553.9,706.4 560.2,702.6 566.4,698.9 572.7,695.7 578.9,692.4 585.1,690.8 591.4,687.9 597.6,684.9 603.9,681.2 610.1,677.4 616.3,674.0 622.6,668.4 628.8,661.2 635.1,654.2 641.3,647.9 647.6,643.0 653.8,639.6 660.0,638.9 666.3,639.1 672.5,640.1 678.8,642.1 685.0,645.0 691.2,648.2 697.5,652.3 703.7,657.4 710.0,663.2 716.2,668.5 722.4,673.4 728.7,678.6 734.9,683.4 741.2,687.2 747.4,690.2 753.7,692.9 759.9,695.1 766.1,697.9 772.4,699.9 778.6,698.5 784.9,696.6 791.1,694.3 797.3,692.4 803.6,690.6 809.8,687.4 816.1,683.1 822.3,679.5 828.5,677.4 834.8,676.7 841.0,676.9 847.3,678.2 853.5,679.9 859.8,679.8 866.0,678.8 872.2,678.8 878.5,679.3 884.7,679.0 891.0,679.3 897.2,678.9 903.4,678.2 909.7,677.8 915.9,677.9 922.2,677.7 928.4,674.8 934.6,670.9 940.9,666.6 947.1,662.5 953.4,658.6 959.6,654.9 965.9,652.4 972.1,650.7 978.3,650.0 984.6,650.9 990.8,652.3 997.1,654.1 1003.3,655.8 1009.5,658.4 1015.8,660.6 1022.0,662.9 1028.3,665.2 1034.5,665.9 1040.7,666.1 1047.0,665.8 1053.2,665.5 1059.5,665.8 1065.7,666.9 1072.0,668.3 1078.2,669.7 1084.4,670.8 1090.7,671.9 1096.9,673.0 1103.2,674.4 1109.4,676.2 1115.6,678.7 1121.9,681.4 1128.1,683.9 1134.4,686.0 1140.6,688.1 1146.8,689.1 1153.1,689.7 1159.3,690.0 1165.6,689.9 1171.8,690.1 1178.1,690.4 1184.3,690.6 1190.5,690.6 1196.8,690.6 1203.0,690.5 1209.3,690.4 1215.5,690.8 1221.7,690.4 1228.0,690.0 1234.2,689.4 1240.5,689.1 1246.7,689.7 1253.0,690.6 1259.2,691.3 1265.4,691.9 1271.7,692.9 1277.9,694.5 1284.2,696.3 1290.4,698.2 1296.6,700.8 1302.9,703.7 1309.1,706.3 1315.4,708.2 1321.6,709.3 1327.8,709.9 1334.1,708.5 1340.3,706.5 1346.6,703.6 1352.8,701.1 1359.1,698.7 1365.3,696.7 1371.5,694.8 1377.8,693.1 1384.0,691.7 1390.3,690.0 1396.5,687.8 1402.7,686.1 1409.0,683.9 1415.2,682.4 1421.5,680.4 1427.7,678.3 1433.9,677.0 1440.2,676.5 1446.4,676.7 1452.7,677.3 1458.9,677.8 1465.2,678.1 1471.4,679.1 1477.6,681.1 1483.9,682.7" fill="none" stroke="#ff6d00" stroke-width="1.05" stroke-linejoin="round"/>
<polyline points="-1.5,672.2 4.7,670.8 11.0,670.8 17.2,671.1 23.4,670.0 29.7,664.9 35.9,666.2 42.2,665.0 48.4,662.6 54.6,661.3 60.9,659.5 67.1,666.1 73.4,676.0 79.6,681.6 85.8,684.7 92.1,689.7 98.3,699.7 104.6,703.6 110.8,714.9 117.1,723.2 123.3,726.2 129.5,728.8 135.8,730.3 142.0,728.1 148.3,724.5 154.5,721.4 160.7,719.7 167.0,717.7 173.2,717.7 179.5,723.5 185.7,720.6 191.9,716.5 198.2,715.9 204.4,714.3 210.7,714.6 216.9,721.9 223.2,726.6 229.4,732.5 235.6,737.2 241.9,742.1 248.1,739.9 254.4,739.5 260.6,741.1 266.8,744.9 273.1,749.4 279.3,751.1 285.6,752.3 291.8,751.8 298.0,754.0 304.3,757.4 310.5,757.5 316.8,754.8 323.0,761.0 329.3,757.5 335.5,750.9 341.7,748.8 348.0,747.4 354.2,740.8 360.5,731.2 366.7,724.3 372.9,717.3 379.2,710.7 385.4,706.1 391.7,706.2 397.9,707.3 404.1,708.0 410.4,707.2 416.6,707.9 422.9,711.7 429.1,714.1 435.4,716.1 441.6,712.8 447.8,713.5 454.1,714.4 460.3,709.4 466.6,704.7 472.8,704.8 479.0,709.0 485.3,719.3 491.5,725.2 497.8,726.0 504.0,723.7 510.2,717.4 516.5,716.2 522.7,712.5 529.0,710.0 535.2,711.1 541.5,710.6 547.7,702.7 553.9,697.7 560.2,692.8 566.4,689.6 572.7,687.8 578.9,684.0 585.1,687.1 591.4,680.6 597.6,677.4 603.9,672.1 610.1,667.7 616.3,665.7 622.6,654.3 628.8,643.2 635.1,636.6 641.3,632.3 647.6,630.6 653.8,631.1 660.0,637.1 666.3,639.5 672.5,642.7 678.8,647.1 685.0,652.2 691.2,656.0 697.5,662.7 703.7,670.1 710.0,677.9 716.2,681.6 722.4,685.7 728.7,691.7 734.9,695.3 741.2,696.7 747.4,697.9 753.7,699.5 759.9,700.5 766.1,705.0 772.4,705.1 778.6,694.8 784.9,692.1 791.1,688.5 797.3,687.7 803.6,686.1 809.8,679.2 816.1,672.5 822.3,670.6 828.5,671.9 834.8,675.2 841.0,677.5 847.3,681.2 853.5,684.1 859.8,679.8 866.0,676.3 872.2,678.7 878.5,680.4 884.7,678.4 891.0,680.0 897.2,677.8 903.4,676.7 909.7,676.7 915.9,678.1 922.2,677.2 928.4,667.5 934.6,661.1 940.9,655.9 947.1,652.1 953.4,648.9 959.6,645.8 965.9,646.0 972.1,646.4 978.3,648.3 984.6,653.1 990.8,655.9 997.1,658.6 1003.3,660.1 1009.5,664.7 1015.8,666.3 1022.0,668.4 1028.3,670.9 1034.5,667.6 1040.7,666.6 1047.0,665.0 1053.2,664.7 1059.5,666.5 1065.7,669.9 1072.0,671.6 1078.2,673.1 1084.4,673.7 1090.7,674.6 1096.9,675.8 1103.2,677.7 1109.4,680.9 1115.6,684.8 1121.9,688.2 1128.1,690.2 1134.4,691.1 1140.6,693.6 1146.8,691.5 1153.1,691.3 1159.3,690.6 1165.6,689.7 1171.8,690.6 1178.1,691.2 1184.3,691.2 1190.5,690.5 1196.8,690.5 1203.0,690.2 1209.3,690.3 1215.5,691.7 1221.7,689.6 1228.0,688.8 1234.2,688.1 1240.5,688.3 1246.7,691.3 1253.0,692.9 1259.2,692.9 1265.4,693.3 1271.7,695.6 1277.9,698.5 1284.2,700.9 1290.4,702.8 1296.6,707.3 1302.9,710.9 1309.1,712.8 1315.4,713.0 1321.6,712.2 1327.8,711.2 1334.1,705.2 1340.3,701.3 1346.6,696.5 1352.8,694.9 1359.1,692.9 1365.3,691.4 1371.5,690.3 1377.8,688.9 1384.0,688.0 1390.3,685.7 1396.5,682.5 1402.7,681.7 1409.0,678.6 1415.2,678.7 1421.5,675.2 1427.7,673.0 1433.9,673.9 1440.2,675.3 1446.4,677.2 1452.7,678.7 1458.9,679.1 1465.2,678.8 1471.4,681.8 1477.6,686.1 1483.9,686.5" fill="none" stroke="#2196f3" stroke-width="1.05" stroke-linejoin="round"/>
<rect x="1764" y="0" width="81" height="808" fill="#ffffff"/>
<rect x="1763" y="0" width="1" height="808" fill="#e0e3eb"/>
<rect x="1764" y="594" width="4" height="1" fill="#d5d7de"/><text x="1775" y="600" font-size="16" fill="#131722" font-weight="normal" text-anchor="start" textLength="59" lengthAdjust="spacingAndGlyphs" stroke="#131722" stroke-width="0.4" font-family="Liberation Sans, sans-serif" >3960.00</text><rect x="1764" y="548" width="4" height="1" fill="#d5d7de"/><text x="1775" y="554" font-size="16" fill="#131722" font-weight="normal" text-anchor="start" textLength="59" lengthAdjust="spacingAndGlyphs" stroke="#131722" stroke-width="0.4" font-family="Liberation Sans, sans-serif" >4000.00</text><rect x="1764" y="503" width="4" height="1" fill="#d5d7de"/><text x="1775" y="509" font-size="16" fill="#131722" font-weight="normal" text-anchor="start" textLength="59" lengthAdjust="spacingAndGlyphs" stroke="#131722" stroke-width="0.4" font-family="Liberation Sans, sans-serif" >4040.00</text><rect x="1764" y="458" width="4" height="1" fill="#d5d7de"/><text x="1775" y="464" font-size="16" fill="#131722" font-weight="normal" text-anchor="start" textLength="59" lengthAdjust="spacingAndGlyphs" stroke="#131722" stroke-width="0.4" font-family="Liberation Sans, sans-serif" >4080.00</text><rect x="1764" y="412" width="4" height="1" fill="#d5d7de"/><text x="1775" y="418" font-size="16" fill="#131722" font-weight="normal" text-anchor="start" textLength="59" lengthAdjust="spacingAndGlyphs" stroke="#131722" stroke-width="0.4" font-family="Liberation Sans, sans-serif" >4120.00</text><rect x="1764" y="367" width="4" height="1" fill="#d5d7de"/><text x="1775" y="373" font-size="16" fill="#131722" font-weight="normal" text-anchor="start" textLength="59" lengthAdjust="spacingAndGlyphs" stroke="#131722" stroke-width="0.4" font-family="Liberation Sans, sans-serif" >4160.00</text><rect x="1764" y="322" width="4" height="1" fill="#d5d7de"/><text x="1775" y="328" font-size="16" fill="#131722" font-weight="normal" text-anchor="start" textLength="59" lengthAdjust="spacingAndGlyphs" stroke="#131722" stroke-width="0.4" font-family="Liberation Sans, sans-serif" >4200.00</text><rect x="1764" y="276" width="4" height="1" fill="#d5d7de"/><text x="1775" y="282" font-size="16" fill="#131722" font-weight="normal" text-anchor="start" textLength="59" lengthAdjust="spacingAndGlyphs" stroke="#131722" stroke-width="0.4" font-family="Liberation Sans, sans-serif" >4240.00</text><rect x="1764" y="231" width="4" height="1" fill="#d5d7de"/><text x="1775" y="237" font-size="16" fill="#131722" font-weight="normal" text-anchor="start" textLength="59" lengthAdjust="spacingAndGlyphs" stroke="#131722" stroke-width="0.4" font-family="Liberation Sans, sans-serif" >4280.00</text><rect x="1764" y="186" width="4" height="1" fill="#d5d7de"/><text x="1775" y="192" font-size="16" fill="#131722" font-weight="normal" text-anchor="start" textLength="59" lengthAdjust="spacingAndGlyphs" stroke="#131722" stroke-width="0.4" font-family="Liberation Sans, sans-serif" >4320.00</text><rect x="1764" y="140" width="4" height="1" fill="#d5d7de"/><text x="1775" y="146" font-size="16" fill="#131722" font-weight="normal" text-anchor="start" textLength="59" lengthAdjust="spacingAndGlyphs" stroke="#131722" stroke-width="0.4" font-family="Liberation Sans, sans-serif" >4360.00</text><rect x="1764" y="95" width="4" height="1" fill="#d5d7de"/><text x="1775" y="101" font-size="16" fill="#131722" font-weight="normal" text-anchor="start" textLength="59" lengthAdjust="spacingAndGlyphs" stroke="#131722" stroke-width="0.4" font-family="Liberation Sans, sans-serif" >4400.00</text><rect x="1764" y="50" width="4" height="1" fill="#d5d7de"/><text x="1775" y="56" font-size="16" fill="#131722" font-weight="normal" text-anchor="start" textLength="59" lengthAdjust="spacingAndGlyphs" stroke="#131722" stroke-width="0.4" font-family="Liberation Sans, sans-serif" >4440.00</text><rect x="1764" y="5" width="4" height="1" fill="#d5d7de"/><text x="1775" y="11" font-size="16" fill="#131722" font-weight="normal" text-anchor="start" textLength="59" lengthAdjust="spacingAndGlyphs" stroke="#131722" stroke-width="0.4" font-family="Liberation Sans, sans-serif" >4480.00</text><rect x="1764" y="652" width="4" height="1" fill="#d5d7de"/><text x="1775" y="658" font-size="16" fill="#131722" font-weight="normal" text-anchor="start" textLength="44" lengthAdjust="spacingAndGlyphs" stroke="#131722" stroke-width="0.4" font-family="Liberation Sans, sans-serif" >25.00</text><rect x="1764" y="704" width="4" height="1" fill="#d5d7de"/><text x="1775" y="710" font-size="16" fill="#131722" font-weight="normal" text-anchor="start" textLength="35" lengthAdjust="spacingAndGlyphs" stroke="#131722" stroke-width="0.4" font-family="Liberation Sans, sans-serif" >0.00</text><rect x="1764" y="757" width="4" height="1" fill="#d5d7de"/><text x="1775" y="763" font-size="16" fill="#131722" font-weight="normal" text-anchor="start" textLength="51" lengthAdjust="spacingAndGlyphs" stroke="#131722" stroke-width="0.4" font-family="Liberation Sans, sans-serif" >−25.00</text>
<path d="M1763 34 H1841 a2 2 0 0 1 2 2 V58 H1763 Z" fill="#f44336"/><rect x="1763" y="46" width="5" height="1" fill="#ffffff"/><text x="1776" y="53.0" font-size="16" fill="#ffffff" font-weight="bold" text-anchor="start" textLength="59" lengthAdjust="spacingAndGlyphs" font-family="Liberation Sans, sans-serif" >4431.97</text>
<path d="M1763 58 H1843 V81 a2 2 0 0 1 -2 2 H1763 Z" fill="#26a69a"/><rect x="1763" y="70" width="5" height="1" fill="#ffffff"/><text x="1776" y="76.5" font-size="16" fill="#ffffff" font-weight="bold" text-anchor="start" textLength="59" lengthAdjust="spacingAndGlyphs" font-family="Liberation Sans, sans-serif" >4422.31</text>
<path d="M1763 113 H1841 a2 2 0 0 1 2 2 V136 a2 2 0 0 1 -2 2 H1763 Z" fill="#4caf50"/><rect x="1763" y="125" width="5" height="1" fill="#ffffff"/><text x="1776" y="131.5" font-size="16" fill="#ffffff" font-weight="bold" text-anchor="start" textLength="59" lengthAdjust="spacingAndGlyphs" font-family="Liberation Sans, sans-serif" >4373.63</text>
<path d="M1763 164 H1841 a2 2 0 0 1 2 2 V187 a2 2 0 0 1 -2 2 H1763 Z" fill="#4caf50"/><rect x="1763" y="176" width="5" height="1" fill="#ffffff"/><text x="1776" y="182.5" font-size="16" fill="#ffffff" font-weight="bold" text-anchor="start" textLength="59" lengthAdjust="spacingAndGlyphs" font-family="Liberation Sans, sans-serif" >4328.56</text>
<path d="M1763 269 H1841 a2 2 0 0 1 2 2 V291 a2 2 0 0 1 -2 2 H1763 Z" fill="#4caf50"/><rect x="1763" y="281" width="5" height="1" fill="#ffffff"/><text x="1776" y="287.0" font-size="16" fill="#ffffff" font-weight="bold" text-anchor="start" textLength="59" lengthAdjust="spacingAndGlyphs" font-family="Liberation Sans, sans-serif" >4236.12</text>
<path d="M1698 58 H1762 V83 H1698 a3 3 0 0 1 -3 -3 V61 a3 3 0 0 1 3 -3 Z" fill="#26a69a"/>
<text x="1700" y="76.5" font-size="16" fill="#ffffff" font-weight="bold" text-anchor="start" textLength="53" lengthAdjust="spacingAndGlyphs" font-family="Liberation Sans, sans-serif" >Euro50</text>
<rect x="85" y="776" width="1" height="5" fill="#d5d7de"/><text x="85.5" y="798.5" font-size="16" fill="#131722" font-weight="normal" text-anchor="middle" stroke="#131722" stroke-width="0.4" font-family="Liberation Sans, sans-serif" >13</text><rect x="198" y="776" width="1" height="5" fill="#d5d7de"/><text x="198.5" y="798.5" font-size="16" fill="#131722" font-weight="normal" text-anchor="middle" stroke="#131722" stroke-width="0.4" font-family="Liberation Sans, sans-serif" >18</text><rect x="310" y="776" width="1" height="5" fill="#d5d7de"/><text x="310.5" y="798.5" font-size="16" fill="#131722" font-weight="normal" text-anchor="middle" stroke="#131722" stroke-width="0.4" font-family="Liberation Sans, sans-serif" >23</text><rect x="422" y="776" width="1" height="5" fill="#d5d7de"/><text x="422.5" y="798.5" font-size="16" fill="#131722" font-weight="normal" text-anchor="middle" stroke="#131722" stroke-width="0.4" font-family="Liberation Sans, sans-serif" >26</text><rect x="572" y="776" width="1" height="5" fill="#d5d7de"/><text x="572.5" y="798.5" font-size="16" fill="#131722" font-weight="normal" text-anchor="middle" stroke="#131722" stroke-width="0.4" font-family="Liberation Sans, sans-serif" >Nov</text><rect x="685" y="776" width="1" height="5" fill="#d5d7de"/><text x="685.5" y="798.5" font-size="16" fill="#131722" font-weight="normal" text-anchor="middle" stroke="#131722" stroke-width="0.4" font-family="Liberation Sans, sans-serif" >6</text><rect x="797" y="776" width="1" height="5" fill="#d5d7de"/><text x="797.5" y="798.5" font-size="16" fill="#131722" font-weight="normal" text-anchor="middle" stroke="#131722" stroke-width="0.4" font-family="Liberation Sans, sans-serif" >9</text><rect x="909" y="776" width="1" height="5" fill="#d5d7de"/><text x="909.5" y="798.5" font-size="16" fill="#131722" font-weight="normal" text-anchor="middle" stroke="#131722" stroke-width="0.4" font-family="Liberation Sans, sans-serif" >14</text><rect x="1022" y="776" width="1" height="5" fill="#d5d7de"/><text x="1022.5" y="798.5" font-size="16" fill="#131722" font-weight="normal" text-anchor="middle" stroke="#131722" stroke-width="0.4" font-family="Liberation Sans, sans-serif" >17</text><rect x="1134" y="776" width="1" height="5" fill="#d5d7de"/><text x="1134.5" y="798.5" font-size="16" fill="#131722" font-weight="normal" text-anchor="middle" stroke="#131722" stroke-width="0.4" font-family="Liberation Sans, sans-serif" >22</text><rect x="1246" y="776" width="1" height="5" fill="#d5d7de"/><text x="1246.5" y="798.5" font-size="16" fill="#131722" font-weight="normal" text-anchor="middle" stroke="#131722" stroke-width="0.4" font-family="Liberation Sans, sans-serif" >27</text><rect x="1396" y="776" width="1" height="5" fill="#d5d7de"/><text x="1396.5" y="798.5" font-size="16" fill="#131722" font-weight="normal" text-anchor="middle" stroke="#131722" stroke-width="0.4" font-family="Liberation Sans, sans-serif" >Déc</text><rect x="1515" y="776" width="1" height="5" fill="#d5d7de"/><text x="1515.5" y="798.5" font-size="16" fill="#131722" font-weight="normal" text-anchor="middle" stroke="#131722" stroke-width="0.4" font-family="Liberation Sans, sans-serif" >6</text><rect x="1627" y="776" width="1" height="5" fill="#d5d7de"/><text x="1627.5" y="798.5" font-size="16" fill="#131722" font-weight="normal" text-anchor="middle" stroke="#131722" stroke-width="0.4" font-family="Liberation Sans, sans-serif" >11</text><rect x="1739" y="776" width="1" height="5" fill="#d5d7de"/><text x="1739.5" y="798.5" font-size="16" fill="#131722" font-weight="normal" text-anchor="middle" stroke="#131722" stroke-width="0.4" font-family="Liberation Sans, sans-serif" >14</text>
<g transform="translate(1805.5,794.5)" fill="none" stroke="#131722" stroke-width="1.2"><circle r="5"/><line x1="5.00" y1="0.00" x2="7.40" y2="0.00"/><line x1="3.54" y1="3.54" x2="5.23" y2="5.23"/><line x1="0.00" y1="5.00" x2="0.00" y2="7.40"/><line x1="-3.54" y1="3.54" x2="-5.23" y2="5.23"/><line x1="-5.00" y1="0.00" x2="-7.40" y2="0.00"/><line x1="-3.54" y1="-3.54" x2="-5.23" y2="-5.23"/><line x1="-0.00" y1="-5.00" x2="-0.00" y2="-7.40"/><line x1="3.54" y1="-3.54" x2="5.23" y2="-5.23"/></g>
</svg>

<div style="position:absolute;left:100px;top:5px;width:18px;height:18px;border-radius:50%;background:#dcf1ee"></div>
<div style="position:absolute;left:105px;top:10px;width:8px;height:8px;border-radius:50%;background:#089981"></div>
<div style="position:absolute;left:6px;top:30px;width:60px;height:36px;border:1px solid #ef5350;border-radius:3px;background:#fff"></div>
<div style="position:absolute;left:72px;top:46px;width:36px;height:21px;border-radius:3px;background:#f5f7fb"></div>
<div style="position:absolute;left:112px;top:30px;width:60px;height:36px;border:1px solid #26a69a;border-radius:3px;background:#fff"></div>
<div style="position:absolute;left:7px;top:122px;width:27px;height:19px;border:1px solid #dfe1e6;border-radius:3px;background:#fff"></div>
<svg style="position:absolute;left:15px;top:128px" width="14" height="10"><path d="M2.5 7.5 L7 3 L11.5 7.5" fill="none" stroke="#131722" stroke-width="1.6"/></svg>
<svg style="position:absolute;left:0;top:0" width="1845" height="808"><text x="7" y="20" font-size="15.5" fill="#131722" font-weight="normal" text-anchor="start" textLength="49" lengthAdjust="spacingAndGlyphs" font-family="Liberation Sans, sans-serif" >Euro50</text><rect x="60" y="14" width="3" height="2" fill="#b2b5be"/><text x="68" y="20" font-size="15.5" fill="#131722" font-weight="normal" text-anchor="start" textLength="16.5" lengthAdjust="spacingAndGlyphs" font-family="Liberation Sans, sans-serif" >4h</text><text x="133.5" y="20" font-size="12.5" fill="#6a6d78" font-weight="normal" text-anchor="start" textLength="10" lengthAdjust="spacingAndGlyphs" font-family="Liberation Sans, sans-serif" >O</text><text x="144.3" y="20" font-size="12.5" fill="#26a69a" font-weight="normal" text-anchor="start" textLength="45.5" lengthAdjust="spacingAndGlyphs" font-family="Liberation Sans, sans-serif" >4409.28</text><text x="195.2" y="20" font-size="12.5" fill="#6a6d78" font-weight="normal" text-anchor="start" textLength="9.5" lengthAdjust="spacingAndGlyphs" font-family="Liberation Sans, sans-serif" >H</text><text x="205.3" y="20" font-size="12.5" fill="#26a69a" font-weight="normal" text-anchor="start" textLength="45.5" lengthAdjust="spacingAndGlyphs" font-family="Liberation Sans, sans-serif" >4426.53</text><text x="257.1" y="20" font-size="12.5" fill="#6a6d78" font-weight="normal" text-anchor="start" textLength="9" lengthAdjust="spacingAndGlyphs" font-family="Liberation Sans, sans-serif" >B</text><text x="265.3" y="20" font-size="12.5" fill="#26a69a" font-weight="normal" text-anchor="start" textLength="45.5" lengthAdjust="spacingAndGlyphs" font-family="Liberation Sans, sans-serif" >4406.28</text><text x="316.5" y="20" font-size="12.5" fill="#6a6d78" font-weight="normal" text-anchor="start" textLength="9.5" lengthAdjust="spacingAndGlyphs" font-family="Liberation Sans, sans-serif" >C</text><text x="325.3" y="20" font-size="12.5" fill="#26a69a" font-weight="normal" text-anchor="start" textLength="45.5" lengthAdjust="spacingAndGlyphs" font-family="Liberation Sans, sans-serif" >4422.31</text><text x="377.5" y="20" font-size="12.5" fill="#26a69a" font-weight="normal" text-anchor="start" textLength="38.5" lengthAdjust="spacingAndGlyphs" font-family="Liberation Sans, sans-serif" >+14.38</text><text x="421" y="20" font-size="12.5" fill="#26a69a" font-weight="normal" text-anchor="start" textLength="48.5" lengthAdjust="spacingAndGlyphs" font-family="Liberation Sans, sans-serif" >(+0.33%)</text><text x="13.5" y="54" font-size="12" fill="#ef5350" font-weight="normal" text-anchor="start" textLength="45" lengthAdjust="spacingAndGlyphs" font-family="Liberation Sans, sans-serif" >4422.31</text><text x="79.5" y="40.8" font-size="10" fill="#50535e" font-weight="normal" text-anchor="start" textLength="21" lengthAdjust="spacingAndGlyphs" font-family="Liberation Sans, sans-serif" >1.39</text><text x="79.5" y="60.8" font-size="11.5" fill="#131722" font-weight="normal" text-anchor="start" textLength="20.5" lengthAdjust="spacingAndGlyphs" font-family="Liberation Sans, sans-serif" >200</text><text x="120.5" y="54" font-size="12" fill="#26a69a" font-weight="normal" text-anchor="start" textLength="45.5" lengthAdjust="spacingAndGlyphs" font-family="Liberation Sans, sans-serif" >4423.70</text><text x="7" y="89" font-size="12" fill="#131722" font-weight="normal" text-anchor="start" textLength="24.5" lengthAdjust="spacingAndGlyphs" font-family="Liberation Sans, sans-serif" >EMA</text><text x="34.5" y="89" font-size="12" fill="#50535e" font-weight="normal" text-anchor="start" textLength="51.5" lengthAdjust="spacingAndGlyphs" font-family="Liberation Sans, sans-serif" >8 close 0</text><text x="94" y="89" font-size="12" fill="#e91e63" font-weight="normal" text-anchor="start" textLength="45.5" lengthAdjust="spacingAndGlyphs" font-family="Liberation Sans, sans-serif" >4417.34</text><text x="7" y="112.8" font-size="12" fill="#131722" font-weight="normal" text-anchor="start" textLength="24.5" lengthAdjust="spacingAndGlyphs" font-family="Liberation Sans, sans-serif" >EMA</text><text x="34.5" y="112.8" font-size="12" fill="#50535e" font-weight="normal" text-anchor="start" textLength="57.5" lengthAdjust="spacingAndGlyphs" font-family="Liberation Sans, sans-serif" >13 close 0</text><text x="100.5" y="112.8" font-size="12" fill="#9c27b0" font-weight="normal" text-anchor="start" textLength="45.5" lengthAdjust="spacingAndGlyphs" font-family="Liberation Sans, sans-serif" >4413.84</text><text x="6.5" y="635" font-size="12" fill="#131722" font-weight="normal" text-anchor="start" textLength="34" lengthAdjust="spacingAndGlyphs" font-family="Liberation Sans, sans-serif" >MACD</text><text x="44.5" y="635" font-size="12" fill="#50535e" font-weight="normal" text-anchor="start" textLength="68" lengthAdjust="spacingAndGlyphs" font-family="Liberation Sans, sans-serif" >9 19 close 6</text><text x="120" y="635" font-size="12" fill="#ffcdd2" font-weight="normal" text-anchor="start" textLength="32" lengthAdjust="spacingAndGlyphs" font-family="Liberation Sans, sans-serif" >−1.82</text><text x="157.5" y="635" font-size="12" fill="#2196f3" font-weight="normal" text-anchor="start" textLength="26" lengthAdjust="spacingAndGlyphs" font-family="Liberation Sans, sans-serif" >8.54</text><text x="189.5" y="635" font-size="12" fill="#ff6d00" font-weight="normal" text-anchor="start" textLength="32" lengthAdjust="spacingAndGlyphs" font-family="Liberation Sans, sans-serif" >10.37</text></svg>

</body></html>
